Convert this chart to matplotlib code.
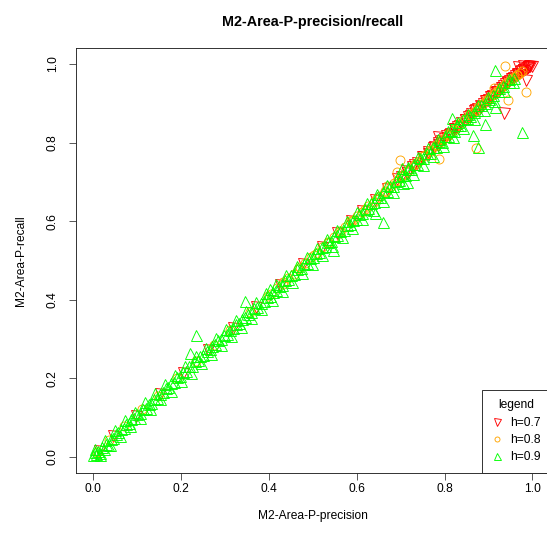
import matplotlib
matplotlib.use("Agg")
import matplotlib.pyplot as plt
from matplotlib.lines import Line2D

plt.rcParams['font.family'] = ['Liberation Sans', 'DejaVu Sans']

# h=0.7 (red, down triangles)
red_x = [0.012, 0.045, 0.098, 0.152, 0.204, 0.262, 0.318, 0.371, 0.425, 0.478, 0.521, 0.556,
         0.588, 0.612, 0.641, 0.668, 0.692, 0.713, 0.731, 0.748, 0.763, 0.777, 0.785, 0.792,
         0.803, 0.812, 0.821, 0.829, 0.838, 0.846, 0.853, 0.861, 0.868, 0.874, 0.881, 0.887,
         0.893, 0.898, 0.904, 0.909, 0.914, 0.919, 0.924, 0.929, 0.934, 0.938, 0.943, 0.947,
         0.952, 0.956, 0.960, 0.964, 0.968, 0.972, 0.975, 0.979, 0.983, 0.987, 0.991, 1.000,
         0.702, 0.714, 0.726, 0.738, 0.750, 0.762, 0.774, 0.786, 0.798, 0.810, 0.822, 0.834,
         0.846, 0.858, 0.870, 0.882, 0.894, 0.906, 0.918, 0.930, 0.942, 0.954, 0.966, 0.978,
         0.990, 0.995,
         0.936, 0.986, 0.979, 0.785, 0.968, 0.992]
red_y = [0.016, 0.052, 0.104, 0.160, 0.213, 0.272, 0.329, 0.382, 0.437, 0.490, 0.533, 0.569,
         0.601, 0.625, 0.653, 0.681, 0.706, 0.727, 0.744, 0.762, 0.777, 0.789, 0.800, 0.804,
         0.816, 0.823, 0.834, 0.840, 0.851, 0.857, 0.866, 0.872, 0.880, 0.885, 0.893, 0.897,
         0.905, 0.909, 0.916, 0.919, 0.926, 0.929, 0.935, 0.939, 0.945, 0.948, 0.953, 0.957,
         0.961, 0.965, 0.969, 0.972, 0.975, 0.979, 0.981, 0.985, 0.988, 0.990, 0.993, 0.995,
         0.713, 0.722, 0.738, 0.747, 0.762, 0.771, 0.786, 0.795, 0.810, 0.819, 0.834, 0.843,
         0.858, 0.867, 0.882, 0.891, 0.906, 0.915, 0.930, 0.938, 0.952, 0.962, 0.974, 0.984,
         0.992, 0.996,
         0.875, 0.959, 0.995, 0.814, 0.992, 0.996]

# h=0.8 (orange, circles)
orange_x = [0.008, 0.036, 0.071, 0.112, 0.148, 0.191, 0.233, 0.274, 0.312, 0.356, 0.398, 0.433,
            0.467, 0.502, 0.534, 0.563, 0.591, 0.618, 0.643, 0.664, 0.684, 0.702, 0.719, 0.736,
            0.752, 0.768, 0.781, 0.795, 0.808, 0.821, 0.833, 0.845, 0.856, 0.866, 0.877, 0.886,
            0.895, 0.904, 0.912, 0.920, 0.928, 0.936, 0.943, 0.951, 0.958, 0.965, 0.971,
            0.405, 0.418, 0.431, 0.444, 0.457, 0.470, 0.483, 0.496, 0.509, 0.522, 0.535, 0.548,
            0.561, 0.574, 0.587, 0.600, 0.613, 0.626, 0.639, 0.652, 0.665, 0.678, 0.691, 0.704,
            0.717, 0.730, 0.743, 0.756, 0.769, 0.782, 0.795, 0.808, 0.821, 0.834, 0.847, 0.860,
            0.873, 0.886, 0.899, 0.912, 0.925, 0.938, 0.951, 0.964, 0.976,
            0.938, 0.986, 0.945, 0.872, 0.699, 0.692, 0.788, 0.669, 0.584, 0.912]
orange_y = [0.012, 0.043, 0.078, 0.121, 0.156, 0.200, 0.243, 0.285, 0.323, 0.368, 0.409, 0.446,
            0.479, 0.515, 0.546, 0.576, 0.604, 0.631, 0.656, 0.677, 0.697, 0.715, 0.733, 0.749,
            0.766, 0.781, 0.795, 0.808, 0.822, 0.834, 0.847, 0.858, 0.869, 0.879, 0.890, 0.898,
            0.908, 0.916, 0.924, 0.932, 0.940, 0.947, 0.954, 0.961, 0.967, 0.973, 0.978,
            0.414, 0.430, 0.441, 0.456, 0.466, 0.482, 0.493, 0.508, 0.519, 0.534, 0.545, 0.560,
            0.571, 0.586, 0.597, 0.612, 0.623, 0.638, 0.649, 0.664, 0.675, 0.690, 0.701, 0.716,
            0.727, 0.742, 0.753, 0.768, 0.779, 0.794, 0.805, 0.820, 0.831, 0.846, 0.857, 0.872,
            0.883, 0.898, 0.908, 0.923, 0.934, 0.948, 0.959, 0.971, 0.982,
            0.995, 0.929, 0.908, 0.786, 0.756, 0.725, 0.758, 0.690, 0.600, 0.938]

# h=0.9 (green, up triangles)
green_x = [0.000, 0.003, 0.007, 0.011, 0.015, 0.019, 0.024, 0.029, 0.034, 0.040, 0.046, 0.051,
           0.057, 0.063, 0.069, 0.075, 0.081, 0.087, 0.093, 0.100, 0.106, 0.113, 0.119, 0.126,
           0.132, 0.139, 0.145, 0.152, 0.158, 0.165, 0.171, 0.178, 0.185, 0.191, 0.198, 0.204,
           0.211, 0.218, 0.224, 0.231, 0.238, 0.244, 0.251, 0.258, 0.265, 0.271, 0.278, 0.285,
           0.292, 0.298, 0.305, 0.312, 0.319, 0.326, 0.333, 0.339, 0.346, 0.353, 0.360, 0.367,
           0.374, 0.381, 0.388, 0.395, 0.402, 0.409, 0.416, 0.423, 0.430, 0.437, 0.444, 0.451,
           0.458, 0.465, 0.472, 0.479, 0.486, 0.493, 0.500, 0.507, 0.514, 0.521, 0.528, 0.535,
           0.542, 0.549, 0.556, 0.563, 0.570, 0.577, 0.584, 0.591, 0.598, 0.605, 0.612, 0.619,
           0.626, 0.633, 0.640, 0.647, 0.654, 0.661, 0.668, 0.675, 0.682, 0.689, 0.696, 0.703,
           0.710, 0.717, 0.724, 0.731, 0.738, 0.745, 0.752, 0.759, 0.766, 0.773, 0.780, 0.787,
           0.794, 0.801, 0.808, 0.815, 0.822, 0.829, 0.836, 0.843, 0.851, 0.858, 0.866, 0.874,
           0.883, 0.892, 0.901, 0.911, 0.922, 0.934, 0.946, 0.958,
           0.005, 0.016, 0.026, 0.038, 0.049, 0.061, 0.072, 0.084, 0.095, 0.107, 0.118, 0.130,
           0.141, 0.153, 0.164, 0.176, 0.187, 0.199, 0.210, 0.222, 0.233, 0.245, 0.256, 0.268,
           0.279, 0.291, 0.302, 0.314, 0.325, 0.337, 0.348, 0.360, 0.371, 0.383, 0.394, 0.406,
           0.417, 0.429, 0.440, 0.452, 0.463, 0.475, 0.486, 0.498, 0.509, 0.521, 0.532, 0.544,
           0.555, 0.567, 0.578, 0.590, 0.601, 0.613, 0.624, 0.636, 0.647, 0.659, 0.670, 0.682,
           0.693, 0.705, 0.716, 0.728, 0.739, 0.751, 0.762, 0.774, 0.785, 0.797, 0.808, 0.820,
           0.831, 0.843, 0.854, 0.866, 0.877, 0.889, 0.900, 0.912, 0.923, 0.935, 0.946, 0.955,
           0.916, 0.977, 0.817, 0.893, 0.865, 0.877, 0.916, 0.715, 0.660, 0.546, 0.345, 0.642,
           0.235, 0.221, 0.703, 0.402]
green_y = [0.004, 0.011, 0.006, 0.016, 0.010, 0.024, 0.019, 0.032, 0.029, 0.046, 0.049, 0.057,
           0.062, 0.070, 0.074, 0.083, 0.086, 0.095, 0.099, 0.108, 0.111, 0.121, 0.124, 0.134,
           0.137, 0.148, 0.150, 0.161, 0.164, 0.175, 0.177, 0.189, 0.191, 0.202, 0.205, 0.216,
           0.218, 0.230, 0.232, 0.243, 0.246, 0.256, 0.260, 0.270, 0.274, 0.283, 0.287, 0.297,
           0.300, 0.310, 0.313, 0.324, 0.327, 0.337, 0.341, 0.350, 0.355, 0.364, 0.368, 0.379,
           0.382, 0.392, 0.396, 0.406, 0.410, 0.420, 0.424, 0.434, 0.438, 0.449, 0.452, 0.463,
           0.466, 0.477, 0.480, 0.491, 0.494, 0.505, 0.508, 0.519, 0.522, 0.533, 0.536, 0.547,
           0.550, 0.561, 0.564, 0.576, 0.578, 0.590, 0.592, 0.604, 0.606, 0.618, 0.620, 0.632,
           0.634, 0.646, 0.648, 0.661, 0.662, 0.675, 0.676, 0.689, 0.690, 0.703, 0.704, 0.717,
           0.718, 0.732, 0.732, 0.746, 0.746, 0.760, 0.760, 0.774, 0.774, 0.789, 0.788, 0.803,
           0.802, 0.817, 0.816, 0.831, 0.830, 0.845, 0.844, 0.859, 0.862, 0.868, 0.878, 0.884,
           0.895, 0.902, 0.912, 0.921, 0.932, 0.943, 0.955, 0.964,
           0.019, 0.005, 0.043, 0.030, 0.068, 0.052, 0.093, 0.079, 0.115, 0.098, 0.139, 0.122,
           0.163, 0.146, 0.186, 0.168, 0.209, 0.192, 0.232, 0.214, 0.256, 0.238, 0.278, 0.261,
           0.302, 0.284, 0.325, 0.307, 0.348, 0.330, 0.371, 0.353, 0.394, 0.376, 0.417, 0.399,
           0.440, 0.422, 0.463, 0.445, 0.486, 0.468, 0.509, 0.491, 0.532, 0.514, 0.555, 0.537,
           0.578, 0.560, 0.601, 0.583, 0.624, 0.606, 0.647, 0.629, 0.670, 0.652, 0.693, 0.675,
           0.716, 0.698, 0.739, 0.721, 0.762, 0.744, 0.785, 0.767, 0.808, 0.790, 0.830, 0.813,
           0.852, 0.836, 0.874, 0.859, 0.896, 0.883, 0.917, 0.907, 0.939, 0.931, 0.961, 0.953,
           0.985, 0.827, 0.863, 0.847, 0.819, 0.789, 0.891, 0.700, 0.598, 0.527, 0.397, 0.621,
           0.310, 0.265, 0.735, 0.428]

ticks = [0.0, 0.2, 0.4, 0.6, 0.8, 1.0]
tick_labels = ['0.0', '0.2', '0.4', '0.6', '0.8', '1.0']

W, H = 547, 541
fig = plt.figure(figsize=(W / 72, H / 72), dpi=72)
# plot region runs a bit past the right edge of the image, as in the original
ax = fig.add_axes([75.7 / W, (H - 472.5) / H, (549.9 - 75.7) / W, (472.5 - 48.3) / H])

ax.plot(red_x, red_y, linestyle='none', marker='v', ms=11, mfc='none', mec='#FF0000', mew=0.9)
ax.plot(orange_x, orange_y, linestyle='none', marker='o', ms=9, mfc='none', mec='#FFA500', mew=0.9)
ax.plot(green_x, green_y, linestyle='none', marker='^', ms=11, mfc='none', mec='#00FF00', mew=0.9)

ax.set_xlim(-0.04, 1.04)
ax.set_ylim(-0.04, 1.04)
ax.set_xticks(ticks)
ax.set_xticklabels(tick_labels)
ax.set_yticks(ticks)
ax.set_yticklabels(tick_labels, rotation=90, va='center')
ax.tick_params(direction='out', length=7, width=0.8, labelsize=12, pad=4, color='#333333')
ax.tick_params(axis='y', pad=10)
for s in ax.spines.values():
    s.set_linewidth(0.9)
    s.set_color('#222222')

ax.set_title('M2-Area-P-precision/recall', fontsize=14.4, fontweight='bold', pad=22)
ax.set_xlabel('M2-Area-P-precision', fontsize=12, labelpad=14)
ax.set_ylabel('M2-Area-P-recall', fontsize=12, labelpad=20)

handles = [
    Line2D([], [], linestyle='none', marker='v', ms=7, mfc='none', mec='#FF0000', mew=0.9),
    Line2D([], [], linestyle='none', marker='o', ms=5, mfc='none', mec='#FFA500', mew=0.9),
    Line2D([], [], linestyle='none', marker='^', ms=7, mfc='none', mec='#00FF00', mew=0.9),
]
leg = ax.legend(handles, ['h=0.7', 'h=0.8', 'h=0.9'], title='legend', loc='lower right',
                bbox_to_anchor=(1.0, 0.0), borderaxespad=0, fancybox=False, fontsize=12,
                title_fontsize=12, handlelength=1.0, handletextpad=0.6, labelspacing=0.45,
                borderpad=0.75, framealpha=1)
leg.get_frame().set_edgecolor('#222222')
leg.get_frame().set_linewidth(0.9)

fig.savefig('out.png', dpi=72, facecolor='white')
